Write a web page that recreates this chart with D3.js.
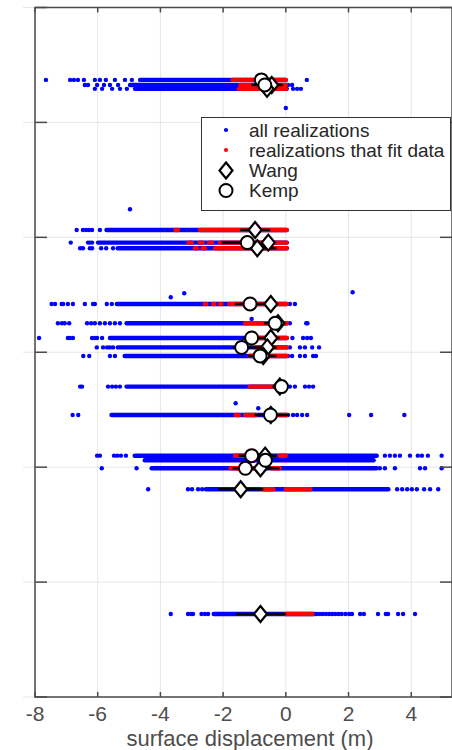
<!DOCTYPE html>
<html><head><meta charset="utf-8">
<script src="https://cdn.jsdelivr.net/npm/d3@7"></script>
<style>html,body{margin:0;padding:0;background:#fff;}svg{display:block;}</style>
</head><body>
<script>
// ---------------- data ----------------
const xTicks = [-8, -6, -4, -2, 0, 2, 4];
const yTicks = [0, 1, 2, 3, 4, 5, 6];
const xLabel = "surface displacement (m)";
const legendLabels = ["all realizations", "realizations that fit data", "Wang", "Kemp"];

// one entry per site row
const rowY    = [5.370, 5.326, 5.292, 4.064, 3.954, 3.905, 3.420, 3.252, 3.124, 3.042, 2.968, 2.701, 2.454, 2.100, 2.060, 1.990, 1.808, 0.722];
const denseLo = [-4.65, -4.97, -4.81, -5.72, -5.99, -5.36, -5.39, -5.08, -5.61, -5.36, -5.14, -5.08, -5.56, -4.82, -4.50, -4.28, -2.55, -2.30];
const denseHi = [0.00, 0.03, 0.03, 0.03, 0.03, 0.03, 0.03, 0.03, 0.03, 0.03, 0.03, 0.03, 0.03, 2.90, 2.80, 2.90, 3.27, 0.92];
const wangX   = [null, -0.45, -0.60, -0.98, -0.56, -0.91, -0.48, -0.25, -0.48, -0.59, -0.72, -0.19, -0.48, -0.66, null, -0.81, -1.44, -0.81];
const kempX   = [-0.78, -0.67, null, null, -1.23, null, -1.14, -0.34, -1.09, -1.41, -0.82, -0.14, -0.49, -1.09, -0.65, -1.29, null, null];
const barLo   = [null, -1.10, null, -1.46, -2.05, -1.20, -1.62, -0.70, -1.40, -1.70, -1.20, -0.40, -1.00, -1.50, null, -1.70, -2.16, -1.60];
const barHi   = [null, -0.10, null, -0.50, -0.93, -0.30, -0.29, -0.10, -0.20, -0.30, -0.30, 0.00, 0.10, -0.30, null, -0.20, -0.72, 0.00];

// scattered "all realizations" outliers per row
const outlierX = [
  [-7.65, -6.88, -6.76, -6.63, -6.44, -6.09, -5.93, -5.74, -5.45, -5.13, -4.91, 0.67],
  [-6.41, -6.31, -6.02, -5.80, -5.61, -5.35, 0.07, 0.20],
  [-6.09, -5.86, -5.54, -5.29, -5.07, 0.23, 0.36, 0.48],
  [-6.67, -6.47, -6.37, -6.28, -6.18, -5.93],
  [-6.86, -6.31, -6.25, -6.18],
  [-6.56, -6.47, -6.25, -6.18, -5.89, -5.73, -5.51],
  [-7.47, -7.36, -7.15, -7.10, -6.95, -6.79, -6.41, -6.15, -6.09, -5.71, -5.55, 0.13, 0.29],
  [-7.27, -7.14, -7.05, -6.91, -6.34, -6.21, -6.09, -5.93, -5.77, -5.61, -5.45, -5.29, 0.13, 0.65, 0.69],
  [-7.87, -6.95, -6.88, -6.79, -6.18, -6.09, -6.02, -5.86, 0.21, 0.55, 0.68, 0.80],
  [-6.03, -5.83, -5.70, -5.61, -5.51, 0.13, 0.45, 0.61, 0.84, 1.06],
  [-6.46, -6.27, -5.61, -5.45, 0.07, 0.20, 0.45, 0.61, 0.87, 0.96],
  [-6.56, -6.50, -5.67, -5.54, -5.42, -5.29, 0.13, 0.29, 0.61, 0.74, 0.87],
  [-6.80, -6.62, 0.07, 0.23, 0.36, 0.52, 0.68, 2.02, 2.72, 3.78],
  [-6.02, -5.93, -5.48, -5.38, -5.26, -5.10, 3.16, 3.32, 3.48, 3.64, 3.96, 4.21, 4.34, 4.53, 4.97],
  [],
  [-5.87, -4.76, 3.00, 3.16, 3.48, 4.28, 4.44, 4.97],
  [-4.39, -3.12, -2.99, -2.80, -2.67, 3.55, 3.71, 3.87, 4.02, 4.18, 4.41, 4.60, 4.86],
  [-3.67, -3.12, -3.02, -2.96, -2.69, -2.58, -2.48, 0.98, 1.08, 1.18, 1.28, 1.38, 1.48, 1.58, 1.68, 1.78, 1.90, 2.02, 2.11, 2.37, 2.49, 2.94, 3.19, 3.26, 3.58, 3.74, 4.12]
];
// stray points off the rows: [x, y]
const strayPts = [[0.00, 5.126], [-4.97, 4.245], [-3.67, 3.479], [-3.24, 3.513], [2.13, 3.522], [-1.09, 3.290], [-1.60, 2.556], [-0.88, 2.513]];

// "realizations that fit data" segments: [row, lo, hi]
const redSegs = [
  [0, -1.70, 0.00], [1, -1.45, 0.00], [2, -1.50, 0.00],
  [3, -3.52, -3.44], [3, -2.74, 0.03],
  [4, -3.10, -3.00], [4, -2.75, -2.65], [4, -2.45, -2.35], [4, -2.10, 0.03],
  [5, -2.90, -2.84], [5, -2.65, -2.58], [5, -2.25, 0.03],
  [6, -2.58, -2.54], [6, -2.32, -2.28], [6, -2.10, -2.05], [6, -1.80, -1.75], [6, -1.68, 0.03],
  [7, -1.30, 0.03], [8, -1.10, 0.03], [9, -0.95, 0.03], [10, -1.15, 0.03], [11, -1.15, 0.03],
  [12, -1.60, -1.50], [12, -1.30, -0.95], [12, -0.20, 0.03],
  [13, -1.62, -1.30], [13, -0.20, 0.00],
  [15, -1.75, -1.00], [15, -0.45, -0.20],
  [16, -0.72, -0.40], [16, 0.00, 0.30], [16, 0.35, 0.55], [16, 0.60, 0.78],
  [17, 0.00, 0.85]
];

// ---------------- drawing ----------------
const W = 452, H = 750;
const x = d3.scaleLinear().domain([-8, 5.3]).range([35, 452]);
const y = d3.scaleLinear().domain([0, 6]).range([697, 7.5]);

const svg = d3.select("body").append("svg").attr("width", W).attr("height", H)
  .style("font-family", "'Liberation Sans', Arial, Helvetica, sans-serif");

const grid = svg.append("g").attr("stroke", "#e6e6e6").attr("stroke-width", 1);
grid.selectAll("line.v").data(xTicks).join("line").attr("class", "v")
  .attr("x1", d => x(d)).attr("x2", d => x(d)).attr("y1", y(6)).attr("y2", y(0));
grid.selectAll("line.h").data(yTicks).join("line").attr("class", "h")
  .attr("x1", 23).attr("x2", x(5.3)).attr("y1", d => y(d)).attr("y2", d => y(d));

const rows = rowY.map((v, i) => ({i, y: v, lo: denseLo[i], hi: denseHi[i], w: wangX[i], k: kempX[i], bl: barLo[i], bh: barHi[i], out: outlierX[i]}));

// blue: all realizations
svg.append("g").selectAll("line").data(rows).join("line")
  .attr("x1", d => x(d.lo)).attr("x2", d => x(d.hi)).attr("y1", d => y(d.y)).attr("y2", d => y(d.y))
  .attr("stroke", "#0000ff").attr("stroke-width", 4.4).attr("stroke-linecap", "round");
const outs = rows.flatMap(r => r.out.map(v => ({x: v, y: r.y})));
svg.append("g").attr("fill", "#0000ff").selectAll("circle")
  .data(outs.concat(strayPts.map(p => ({x: p[0], y: p[1]})))).join("circle")
  .attr("cx", d => x(d.x)).attr("cy", d => y(d.y)).attr("r", 2.2);

// red: fit realizations
svg.append("g").selectAll("line").data(redSegs).join("line")
  .attr("x1", d => x(d[1])).attr("x2", d => x(d[2])).attr("y1", d => y(rowY[d[0]])).attr("y2", d => y(rowY[d[0]]))
  .attr("stroke", "#ff0000").attr("stroke-width", 4.4).attr("stroke-linecap", "round");

// error bars
svg.append("g").selectAll("line").data(rows.filter(r => r.bl !== null)).join("line")
  .attr("x1", d => x(d.bl)).attr("x2", d => x(d.bh)).attr("y1", d => y(d.y)).attr("y2", d => y(d.y))
  .attr("stroke", "#000").attr("stroke-width", 2.5);

const diamond = "M0,-8L6.5,0L0,8L-6.5,0Z";
svg.append("g").selectAll("path").data(rows.filter(r => r.w !== null)).join("path")
  .attr("d", diamond).attr("transform", d => `translate(${x(d.w)},${y(d.y)})`)
  .attr("fill", "#fff").attr("stroke", "#000").attr("stroke-width", 2.2).attr("stroke-linejoin", "miter");
svg.append("g").selectAll("circle").data(rows.filter(r => r.k !== null)).join("circle")
  .attr("cx", d => x(d.k)).attr("cy", d => y(d.y)).attr("r", 6.5)
  .attr("fill", "#fff").attr("stroke", "#000").attr("stroke-width", 2);

// axes box and ticks
const ax = svg.append("g").attr("stroke", "#4a4a4a").attr("stroke-width", 1.5).attr("fill", "none");
ax.append("rect").attr("x", x(-8)).attr("y", y(6)).attr("width", x(5.3) - x(-8)).attr("height", y(0) - y(6));
ax.selectAll("line.yl").data(yTicks).join("line").attr("class", "yl")
  .attr("x1", x(-8)).attr("x2", x(-8) + 12).attr("y1", d => y(d)).attr("y2", d => y(d));
ax.selectAll("line.yr").data(yTicks).join("line").attr("class", "yr")
  .attr("x1", x(5.3)).attr("x2", x(5.3) - 12).attr("y1", d => y(d)).attr("y2", d => y(d));
ax.selectAll("line.xb").data(xTicks).join("line").attr("class", "xb")
  .attr("x1", d => x(d)).attr("x2", d => x(d)).attr("y1", y(0)).attr("y2", y(0) - 5);
ax.selectAll("line.xt").data(xTicks).join("line").attr("class", "xt")
  .attr("x1", d => x(d)).attr("x2", d => x(d)).attr("y1", y(6)).attr("y2", y(6) + 5);

svg.append("g").selectAll("text").data(xTicks).join("text")
  .attr("x", d => x(d)).attr("y", 721.3).attr("text-anchor", "middle")
  .attr("font-size", 21).attr("fill", "#4d4d4d").text(d => d);
svg.append("text").attr("x", 250).attr("y", 745.8).attr("text-anchor", "middle")
  .attr("font-size", 22).attr("fill", "#4d4d4d").text(xLabel);

// legend
const lg = svg.append("g");
lg.append("rect").attr("x", 201.5).attr("y", 117.5).attr("width", 249).attr("height", 93)
  .attr("fill", "#fff").attr("stroke", "#333").attr("stroke-width", 1);
const ly = [130, 150, 170.5, 190.5];
lg.append("circle").attr("cx", 226).attr("cy", ly[0]).attr("r", 2.1).attr("fill", "#0000ff");
lg.append("circle").attr("cx", 226).attr("cy", ly[1]).attr("r", 2.1).attr("fill", "#ff0000");
lg.append("path").attr("d", diamond).attr("transform", `translate(226,${ly[2]})`)
  .attr("fill", "#fff").attr("stroke", "#000").attr("stroke-width", 2.2);
lg.append("circle").attr("cx", 226).attr("cy", ly[3]).attr("r", 6.5)
  .attr("fill", "#fff").attr("stroke", "#000").attr("stroke-width", 2);
lg.selectAll("text").data(legendLabels).join("text")
  .attr("x", 249).attr("y", (d, i) => ly[i]).attr("dy", "0.35em")
  .attr("font-size", 19).attr("fill", "#262626").text(d => d);
</script>
</body></html>
